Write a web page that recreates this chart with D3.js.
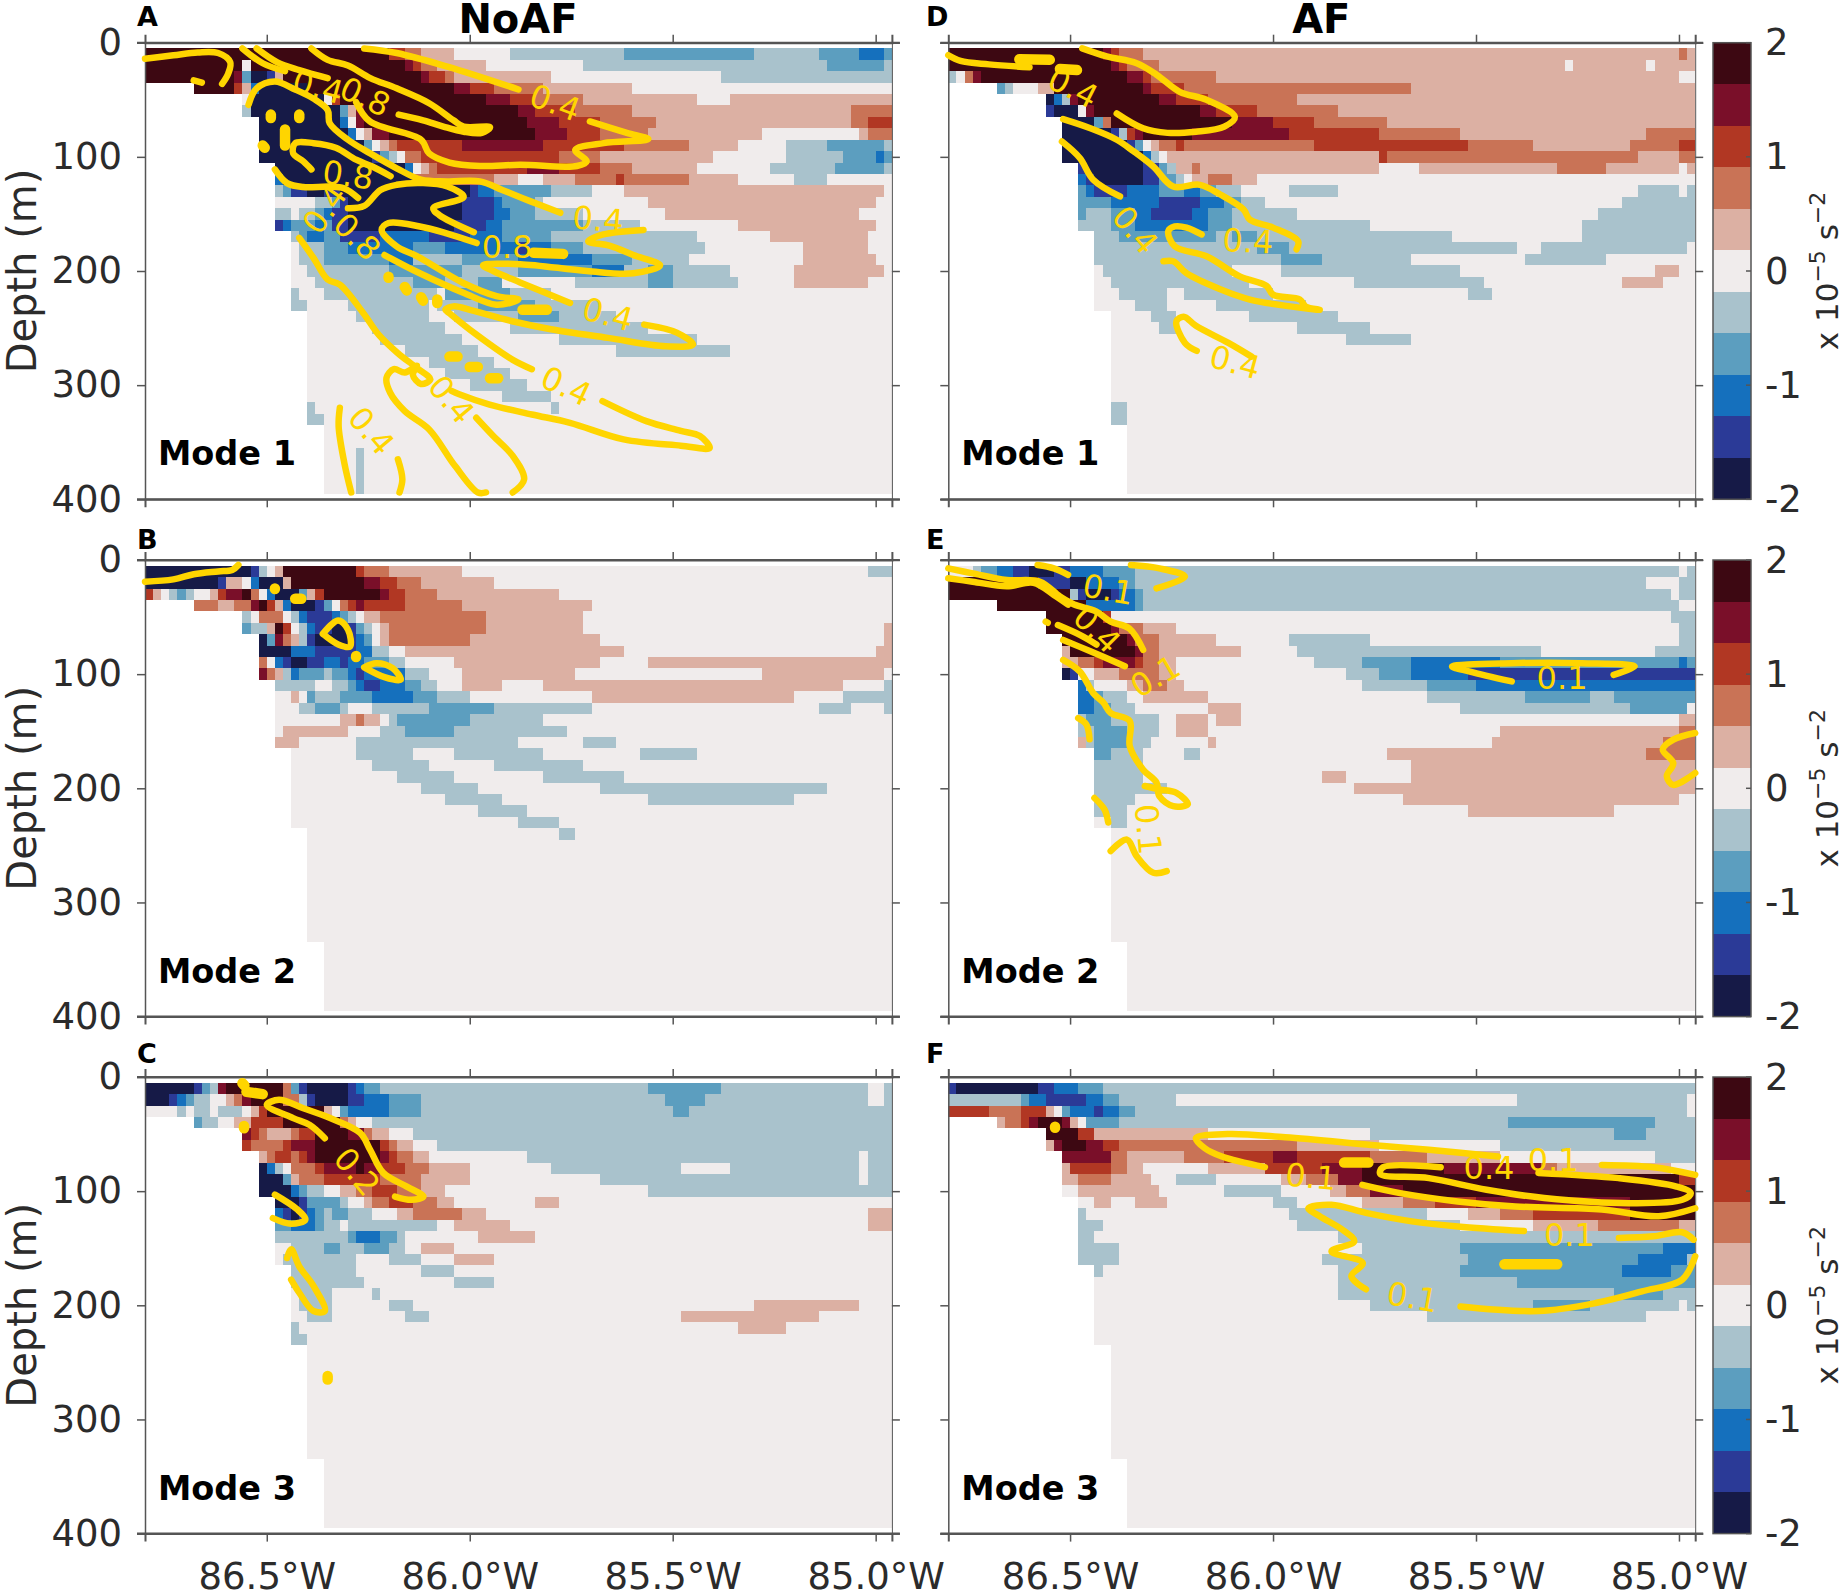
<!DOCTYPE html>
<html>
<head>
<meta charset="utf-8">
<script src="https://cdn.jsdelivr.net/npm/d3@7/dist/d3.min.js"></script>
<style>
  body { margin: 0; background: #fff; }
  text { font-family: "DejaVu Sans", sans-serif; }
</style>
</head>
<body>
<svg id="fig" width="1842" height="1592"></svg>
<script>
// grid of the model section: 0.02 deg wide, 10 m deep cells
const lonStart = -86.8, lonStep = 0.02, depthStart = 5, depthStep = 10;

// colour classes, x 10^-5 s^-2
const levels = { a: -1.82, b: -1.45, c: -1.09, d: -0.73, e: -0.36, o: 0, v: 0.36, w: 0.73, x: 1.09, y: 1.45, z: 1.82 };
const palette = ['#161a47', '#2b3a97', '#1570bd', '#5c9ebf', '#a9c2cc', '#f0ecec', '#dcb0a3', '#c97356', '#b13723', '#7a0f29', '#3d0812'];
const barTicks = [2, 1, 0, -1, -2];
const depthTicks = [0, 100, 200, 300, 400];
const lonTicks = [-86.5, -86, -85.5, -85];

// each row runs top down, token = class + column where that class stops
const rowsA = [
  "z30 x32 w34 v38 o45 e59 d75 e83 d88 c91 d92",
  "z12 o13 z32 y33 x34 w36 v42 o54 e84 d91 e92",
  "z11 y12 d13 a15 b16 v17 z34 y35 x37 w38 v50 o71 e92",
  ".6 z11 x12 v13 c14 a20 z38 y40 x43 w49 v60 o92",
  ".12 o13 a22 o23 x24 z42 y45 x48 w54 v68 o72 v92",
  ".12 e13 a24 d25 v26 y27 z46 y48 x53 w60 v87 w92",
  ".14 a24 c25 o26 y27 z47 y51 x56 w63 v87 w89 x92",
  ".14 a25 c26 o27 v28 y30 z48 y52 x56 w62 v76 o88 v89 w92",
  ".14 a27 d28 o29 v30 w31 x39 y49 x59 w67 v73 o79 e84 d91 e92",
  ".14 a28 b29 d30 e31 o32 w34 x51 w56 v70 o79 e86 d90 c91 d92",
  ".16 a32 c33 o34 v35 w36 x47 y51 x56 w60 v68 o77 e85 d91 e92",
  ".16 c17 a33 w43 v46 o49 v53 w58 x59 w67 v73 o80 e84 o92",
  ".16 e17 d18 b20 a22 b24 a40 b41 c43 d50 e55 o59 v91 o92",
  ".16 o21 e23 d24 b25 a39 b43 c44 d48 e49 o62 v90 o92",
  ".16 e18 o19 e21 d22 c23 b25 a39 b43 c45 d48 e54 o64 v88 o92",
  ".16 b17 c18 d21 c22 d23 b25 a38 b42 c44 d54 e61 o73 v90 o92",
  ".18 e19 d20 c22 d24 b29 c35 b40 c44 d50 e68 o77 v89 o92",
  ".18 o19 e22 d25 c33 d37 c46 b47 c50 d54 e69 o81 v89 o92",
  ".18 o19 e22 d30 c33 e39 d46 c55 d60 e67 o81 v90 o92",
  ".18 o20 e30 d39 e46 d55 c59 e62 d65 e72 o80 v91 o92",
  ".18 o21 e33 d37 e41 d44 o53 e62 d65 e73 o80 v89 o92",
  ".18 e19 o22 e36 o37 d45 e50 o92",
  ".18 e20 o25 e35 o36 e41 d48 e56 o92",
  ".20 o26 e35 o38 e46 d51 e58 o92",
  ".20 o28 e37 o45 e62 o92",
  ".20 o29 e39 o51 e68 o92",
  ".20 o32 e41 o58 e72 o92",
  ".20 o35 e43 o92",
  ".20 o37 e45 o92",
  ".20 o40 e47 o92",
  ".20 o44 e50 o92",
  ".20 e21 o50 e51 o92",
  ".20 e22 o92",
  ".22 o92",
  ".22 o92",
  ".22 o26 e27 o92",
  ".22 o26 e27 o92",
  ".22 o26 e27 o92",
  ".22 o26 e27 o92"
];
const rowsB = [
  "a13 b14 e15 o16 v17 z26 x27 w30 v39 o89 e92",
  "a9 b10 v12 o13 c14 a17 v18 z27 y29 x31 w34 v43 o92",
  "x1 v2 o3 e4 d5 e6 o8 v9 x10 y12 z13 w14 o15 c16 a19 d20 v21 x22 z29 y30 x32 w36 v51 o92",
  ".6 w9 v11 w13 y14 z15 x16 v17 c18 a21 b22 d23 o24 w25 x26 y27 x32 w39 v55 o92",
  ".12 e13 o14 w17 o18 e19 c20 b23 c24 d25 e26 o27 v29 w42 v54 o92",
  ".12 d13 e15 v16 z17 x18 o19 e20 c21 b23 a25 b26 d27 e28 o29 v30 w42 v54 o91 v92",
  ".14 a15 d16 y17 w18 v19 e20 b21 a25 b26 c27 d28 o29 v30 w40 v56 o91 v92",
  ".14 a18 c21 b26 c28 e30 o32 v59 o90 v92",
  ".14 w15 o16 c17 b18 a20 b22 c24 b25 c27 d30 e32 o38 v56 o62 v92",
  ".14 y15 w16 v17 e18 c19 d22 e23 d25 c26 b27 c32 e35 o39 v53 o76 v91 o92",
  ".16 e21 o23 e25 d26 c27 b29 c32 d34 e36 o39 v44 o49 v86 o91 e92",
  ".16 o18 v19 o20 d21 e24 d28 c33 d36 e40 o55 v80 o86 e92",
  ".16 o19 e21 d24 e25 o28 e35 d43 e55 o83 e87 o91 e92",
  ".16 o24 v26 w27 v29 o30 e31 d40 e49 o92",
  ".16 o17 v25 o29 e32 d38 e52 o92",
  ".16 v19 o26 e46 o54 e58 o92",
  ".18 o26 e33 o38 e49 o61 e68 o92",
  ".18 o28 e35 o43 e54 o92",
  ".18 o31 e38 o49 e59 o92",
  ".18 o34 e41 o56 e84 o92",
  ".18 o37 e44 o62 e80 o92",
  ".18 o41 e47 o92",
  ".18 o46 e51 o92",
  ".20 o51 e53 o92",
  ".20 o92", ".20 o92", ".20 o92", ".20 o92", ".20 o92", ".20 o92", ".20 o92", ".20 o92", ".20 o92",
  ".22 o92", ".22 o92", ".22 o92", ".22 o92", ".22 o92", ".22 o92"
];
const rowsC = [
  "a6 b7 d8 e9 y10 z17 w18 d19 b20 a25 b26 c27 d29 e62 d71 e89 o91 e92",
  "a3 b4 c5 d6 e8 o10 v11 w12 y13 z17 w19 e20 b21 a25 b27 c30 d34 e64 d69 e89 o91 e92",
  "o4 e5 o6 e8 o9 e12 o13 v14 x15 z22 v23 o24 d25 c30 d34 e65 d67 e92",
  ".6 d7 e9 o11 v13 x17 z24 w25 v26 o28 e92",
  ".12 y13 x14 w15 v18 w19 x21 z25 y27 w28 v30 o33 e92",
  ".12 x13 w17 x18 y21 z29 x30 w31 v33 o36 e92",
  ".14 v15 w16 x18 w19 x20 y21 z29 y30 x31 w33 v35 o47 e88 o89 e92",
  ".14 a15 c16 e17 o18 w21 x22 y26 z27 y29 x32 w35 v40 o50 e66 o72 e88 o89 e92",
  ".14 a17 d18 v19 w22 x29 w34 v40 o56 e88 o89 e92",
  ".14 a18 c19 d20 e22 o24 v26 w28 x31 w34 v37 o62 e92",
  ".16 a19 b20 d24 e25 o27 v28 w30 x33 w36 v38 o48 v51 o92",
  ".16 c17 b18 a19 b20 c21 d22 e23 d25 e28 o31 v33 w39 v42 o89 v92",
  ".16 d18 c21 d22 e24 o25 e36 o38 v45 o89 v92",
  ".16 e25 d26 c29 d31 e32 o41 v48 o92",
  ".16 o18 e22 d24 e27 d30 e32 o34 v38 o92",
  ".16 o17 e26 o30 e34 o38 v43 o92",
  ".18 e26 o34 e38 o92",
  ".18 e27 o38 e43 o92",
  ".18 o19 e23 o28 e29 o92",
  ".18 o19 e23 o30 e33 o75 v88 o92",
  ".18 o20 e23 o32 e35 o66 v83 o92",
  ".18 e19 o73 v79 o92",
  ".18 e20 o92",
  ".20 o92", ".20 o92", ".20 o92", ".20 o92", ".20 o92", ".20 o92", ".20 o92", ".20 o92", ".20 o92", ".20 o92",
  ".22 o92", ".22 o92", ".22 o92", ".22 o92", ".22 o92", ".22 o92"
];
const rowsD = [
  "z19 y20 x21 w24 v90 w91 v92",
  "z20 y21 x22 w26 v76 o77 v86 o87 v92",
  "e1 o2 w3 y4 z22 y24 x25 w33 v90 o92",
  ".6 d7 e8 o11 v13 z24 y25 x29 w57 v92",
  ".12 a13 c14 e15 y16 z26 y28 x32 w43 v92",
  ".12 b13 a16 o17 y18 z31 y33 x38 w48 v92",
  ".14 a18 d19 w20 z35 y40 x45 w54 v92",
  ".14 a20 b21 e22 x23 y24 z30 y42 x53 w63 v86 w92",
  ".14 a22 b23 d24 o25 v26 w28 x29 w45 x64 w72 v84 w90 x92",
  ".14 a24 c25 e26 o27 v53 x54 w85 v90 w92",
  ".16 b17 a24 b26 d27 e28 v30 w31 v53 o58 v75 w81 v90 o91 v92",
  ".16 c17 b18 a24 b26 d28 e29 o30 v32 w35 v38 o92",
  ".16 d17 c18 b22 c26 d29 c31 d33 e36 o42 e48 o85 e90 o91 e92",
  ".16 d20 c26 b31 c34 d36 e39 o83 e92",
  ".16 d17 e20 d23 c25 b30 c32 d35 e43 o80 e92",
  ".16 e20 d23 c32 d35 e52 o78 e92",
  ".18 e21 d33 e35 d38 e62 o78 e92",
  ".18 e38 d42 e70 o73 e91 o92",
  ".18 e41 d46 e57 o71 e81 o92",
  ".18 o19 e35 o41 e63 o87 v90 o92",
  ".18 o20 e37 o50 e66 o83 v88 o92",
  ".18 o21 e27 o29 e40 o64 e67 o92",
  ".18 o23 e27 o33 e44 o92",
  ".20 o25 e28 o37 e48 o92",
  ".20 o26 e28 o43 e52 o92",
  ".20 o49 e57 o92",
  ".20 o92", ".20 o92", ".20 o92", ".20 o92", ".20 o92",
  ".20 e22 o92", ".20 e22 o92",
  ".22 o92", ".22 o92", ".22 o92", ".22 o92", ".22 o92", ".22 o92"
];
const rowsE = [
  "o3 e4 d6 c8 b10 a13 b15 c19 d23 e90 o91 e92",
  "z11 b15 a17 c21 d23 e86 o90 e92",
  "z15 e16 b17 a20 b21 c23 d24 e89 o90 e92",
  ".6 z17 c23 d24 e90 o92",
  ".12 z19 x20 o89 e92",
  ".12 z20 y21 w24 v28 o90 e92",
  ".14 z22 y23 w26 v33 o42 e52 o90 e92",
  ".14 v15 z23 y24 w26 v36 o43 e73 o87 e92",
  ".14 v16 w18 x19 y23 x24 w26 v28 o45 e51 d57 c68 d90 c91 d92",
  ".14 a15 b16 o18 v21 w26 v28 o49 e53 d57 c64 b92",
  ".16 c17 e18 o22 v24 w27 v29 o51 e59 d65 c92",
  ".16 c18 d19 e22 o24 v32 o59 e71 d79 e82 d92",
  ".16 c18 d20 e23 o32 v36 o63 e84 d91 o92",
  ".16 e17 d20 e26 o28 v32 o33 v36 o90 v92",
  ".16 e18 d22 e26 o28 v32 o68 v90 w92",
  ".16 v17 e18 d22 e25 o32 v33 o67 v88 w92",
  ".18 d20 e24 o29 e31 o54 v86 w92",
  ".18 e24 o57 v92",
  ".18 e24 o46 v49 o57 v92",
  ".18 e27 o50 v92",
  ".18 e23 o56 v90 o92",
  ".18 e22 o64 v82 o92",
  ".18 o20 e22 o92",
  ".20 o92", ".20 o92", ".20 o92", ".20 o92", ".20 o92", ".20 o92", ".20 o92", ".20 o92", ".20 o92", ".20 o92",
  ".22 o92", ".22 o92", ".22 o92", ".22 o92", ".22 o92", ".22 o92"
];
const rowsF = [
  "b1 a11 b13 c16 d19 e92",
  "e9 d10 c12 b17 c19 d21 e28 o70 e91 o92",
  "x5 w9 x12 v13 o14 d15 c18 b19 c21 d23 e91 o92",
  ".6 v7 w9 x10 y11 z14 y15 v16 o17 d21 e69 d87 e92",
  ".12 z16 x18 v32 o52 e82 d86 e92",
  ".12 v13 y14 z17 y19 x21 w43 v53 o68 e92",
  ".14 y20 w22 v29 w34 x40 y43 x52 w59 v68 o87 e92",
  ".14 v15 x20 w22 v24 o32 v39 x46 y51 z61 y73 w75 v89 o92",
  ".14 v16 w20 v25 o28 e33 o41 v44 w48 y51 z90 x92",
  ".14 o16 v26 o34 e41 o47 v49 w52 y56 z92",
  ".16 o18 v20 o23 v27 o40 e43 o51 v56 w60 x65 y84 z92",
  ".16 e17 o42 e59 o64 v68 w72 x84 z92",
  ".16 e19 o43 e63 o72 v80 w90 v92",
  ".16 e18 o48 e92",
  ".16 e21 o51 e63 d88 c92",
  ".16 e21 o46 e64 d85 c91 e92",
  ".18 e19 o48 e63 d83 c89 d92",
  ".18 o48 e70 d92",
  ".18 o48 e82 d88 e92",
  ".18 o52 e72 d79 e90 o91 e92",
  ".18 o59 e86 o92",
  ".18 o92", ".18 o92",
  ".20 o92", ".20 o92", ".20 o92", ".20 o92", ".20 o92", ".20 o92", ".20 o92", ".20 o92", ".20 o92", ".20 o92",
  ".22 o92", ".22 o92", ".22 o92", ".22 o92", ".22 o92", ".22 o92"
];

// contours of the mode, [lon, depth]
const contoursA = [
  [[-86.80,14],[-86.73,11],[-86.67,8.5],[-86.62,9],[-86.59,17],[-86.595,27],[-86.61,36]],
  [[-86.68,33],[-86.66,35]],
  [[-86.56,5],[-86.51,18],[-86.455,25]],
  [[-86.525,5],[-86.475,17],[-86.42,24],[-86.35,31]],
  [[-86.39,5],[-86.35,15],[-86.30,20],[-86.245,31],[-86.18,40],[-86.10,53],[-86.04,68],[-86.015,73.5],[-85.95,74],[-85.97,79],[-86.015,78],[-86.065,73.5],[-86.115,68],[-86.175,63]],
  [[-86.26,5],[-86.18,9],[-86.055,21],[-85.88,41]],
  [[-86.28,52],[-86.246,69],[-86.12,85],[-86.10,97],[-86.05,105],[-85.975,108],[-85.876,107],[-85.736,108],[-85.712,104],[-85.74,94],[-85.67,88],[-85.56,84.5],[-85.613,79],[-85.704,69]],
  [[-86.545,54.5],[-86.525,40],[-86.48,34],[-86.43,41],[-86.385,49],[-86.35,59],[-86.345,70.5],[-86.30,85],[-86.245,97],[-86.18,110],[-86.12,120],[-86.055,121.5],[-85.975,121.5],[-85.92,129],[-85.85,139],[-85.777,149]],
  [[-86.39,111],[-86.41,104],[-86.435,97],[-86.43,88],[-86.385,88],[-86.33,92],[-86.28,102.5],[-86.24,108.5],[-86.195,117]],
  [[-86.48,111],[-86.45,123],[-86.41,126.5],[-86.345,126],[-86.31,127.5],[-86.275,136]],
  [[-86.30,145],[-86.26,143],[-86.22,129],[-86.18,124.5],[-86.115,123],[-86.055,126],[-86.015,135],[-86.09,145],[-86.075,151],[-85.99,166]],
  [[-85.983,175.5],[-86.057,167],[-86.123,161],[-86.2,158],[-86.217,164],[-86.18,178.5],[-86.13,187],[-86.016,210.5],[-85.934,222],[-85.88,225],[-85.934,229.5],[-86.016,219],[-86.123,202],[-86.21,186]],
  [[-85.753,228],[-85.876,210],[-85.942,200],[-85.967,195],[-85.876,194],[-85.712,200],[-85.597,202],[-85.531,195],[-85.597,186],[-85.654,178],[-85.708,174],[-85.671,168],[-85.572,164]],
  [[-86.42,171],[-86.385,188.5],[-86.35,207.5],[-86.32,212],[-86.262,237],[-86.224,256],[-86.177,272],[-86.13,285],[-86.097,295],[-86.12,299],[-86.14,291],[-86.13,283],[-86.16,289],[-86.187,286],[-86.205,293.6],[-86.196,306.7],[-86.16,322.8],[-86.10,338.8],[-86.036,370.9],[-85.98,394],[-85.96,394]],
  [[-86.045,305],[-86.026,308],[-85.951,317],[-85.847,325.7],[-85.753,333],[-85.621,347.5],[-85.48,353],[-85.409,355],[-85.433,344.6],[-85.48,340],[-85.565,331.5],[-85.673,314]],
  [[-85.984,328.6],[-85.942,344.6],[-85.894,362],[-85.866,382.5],[-85.894,394]],
  [[-86.32,319.8],[-86.323,336],[-86.309,368],[-86.292,394]],
  [[-86.177,365],[-86.166,382.5],[-86.173,394]],
  [[-85.847,286],[-85.895,277.6],[-85.99,254],[-86.05,237],[-86.06,234],[-86.04,231],[-85.99,235],[-85.895,244],[-85.80,251],[-85.66,258.6],[-85.517,266],[-85.45,264.5],[-85.49,254],[-85.57,247]]
];
const blobsA = [
  [[-86.49,63],[-86.49,66]], [[-86.42,63],[-86.42,66]], [[-86.455,76],[-86.455,90]], [[-86.51,90],[-86.505,92]],
  [[-85.843,184],[-85.77,185]], [[-85.87,234],[-85.81,234]],
  [[-86.2,205],[-86.2,206]], [[-86.16,214],[-86.155,217]], [[-86.12,223],[-86.115,226]], [[-86.08,225],[-86.08,228]],
  [[-86.05,275],[-86.03,275]], [[-86.0,284],[-85.98,284]], [[-85.95,294],[-85.93,294]]
];
const labelsA = [
  ["0.4",-86.374,38.8,15], ["0.8",-86.258,47.5,25], ["0.8",-86.3,116,8], ["0.4",-86.357,146,-55], ["0.8",-86.278,170,45],
  ["0.8",-85.908,178.7,0], ["0.4",-85.79,52.8,20], ["0.4",-85.684,155,5], ["0.4",-85.66,238,15],
  ["0.4",-85.763,301,25], ["0.4",-86.046,312.6,50], ["0.4",-86.243,340,50]
];
const contoursB = [
  [[-86.8,19],[-86.73,17],[-86.68,12.5],[-86.62,10],[-86.585,8.7],[-86.57,4.4]],
  [[-86.362,64.7],[-86.324,53],[-86.30,61],[-86.295,75.8],[-86.324,74],[-86.362,64.7]],
  [[-86.26,94],[-86.23,90.4],[-86.19,94.8],[-86.17,105],[-86.21,102.6],[-86.26,94]]
];
const blobsB = [
  [[-86.48,25],[-86.48,25.5]], [[-86.43,34],[-86.415,34]], [[-86.28,84],[-86.28,85]]
];
const labelsB = [];
const contoursC = [
  [[-86.357,53.6],[-86.394,42],[-86.435,36],[-86.50,24.5],[-86.47,20],[-86.41,27.4],[-86.344,36],[-86.27,49],[-86.245,64],[-86.213,84],[-86.155,96],[-86.114,104.7],[-86.143,107.6],[-86.184,104.7]],
  [[-86.48,103],[-86.425,116],[-86.405,125],[-86.44,128.6],[-86.485,123.6]],
  [[-86.45,158.6],[-86.44,151],[-86.42,166],[-86.385,183],[-86.357,205],[-86.385,205],[-86.42,189],[-86.44,177.5]]
];
const blobsC = [
  [[-86.56,5.5],[-86.555,7.5]], [[-86.55,13],[-86.51,15]], [[-86.556,43],[-86.556,45]], [[-86.35,262],[-86.35,265]]
];
const labelsC = [["0.2",-86.278,83,50]];
const contoursD = [
  [[-86.8,11],[-86.77,16],[-86.70,19],[-86.6,21.5]],
  [[-86.47,5],[-86.41,12],[-86.336,18],[-86.287,28],[-86.23,43],[-86.164,50],[-86.094,65],[-86.12,73.5],[-86.19,78],[-86.26,79],[-86.32,75],[-86.385,62]],
  [[-86.517,67],[-86.45,75],[-86.385,85],[-86.344,95],[-86.295,108.5],[-86.246,126],[-86.18,124.5],[-86.13,133],[-86.073,146],[-86.057,155],[-86.0,162],[-85.938,174],[-85.942,181]],
  [[-86.52,86.6],[-86.476,101],[-86.443,120],[-86.377,134.7]],
  [[-86.176,168],[-86.213,162],[-86.242,161],[-86.258,165],[-86.242,178.5],[-86.164,187],[-86.082,204.7],[-86.016,213],[-86.0,220.7],[-85.934,225],[-85.92,231],[-85.885,234],[-85.958,231],[-86.057,225],[-86.13,216],[-86.213,202],[-86.246,191.5],[-86.27,191.5]],
  [[-86.188,270],[-86.217,263],[-86.238,244],[-86.22,240],[-86.19,248],[-86.11,263],[-86.053,275]]
];
const blobsD = [
  [[-86.625,14.5],[-86.55,15]], [[-86.525,23],[-86.483,24]]
];
const labelsD = [
  ["0.4",-86.493,39.6,27], ["0.4",-86.34,164,50], ["0.4",-86.062,174,3], ["0.4",-86.094,280,15]
];
const contoursE = [
  [[-86.8,7.3],[-86.74,11.7],[-86.656,17.5],[-86.574,19],[-86.525,32],[-86.49,39],[-86.436,45],[-86.40,54],[-86.354,60],[-86.32,78.7]],
  [[-86.8,16],[-86.74,19],[-86.656,23],[-86.59,20],[-86.54,30.6],[-86.505,39]],
  [[-86.58,4.4],[-86.54,7.3],[-86.505,13]],
  [[-86.35,4.4],[-86.28,7.3],[-86.217,14.6],[-86.287,24.8]],
  [[-86.53,57],[-86.476,65.6],[-86.435,74]],
  [[-86.517,70],[-86.45,80],[-86.365,93]],
  [[-86.56,54],[-86.555,55]],
  [[-86.517,87.5],[-86.476,97.7],[-86.443,116.6],[-86.418,125],[-86.40,134],[-86.353,141],[-86.353,163],[-86.32,183.7],[-86.287,195],[-86.28,207],[-86.246,215.7],[-86.21,214],[-86.238,204],[-86.28,201],[-86.316,198]],
  [[-86.48,138.5],[-86.46,144],[-86.452,157]],
  [[-86.44,208.5],[-86.415,218.7],[-86.406,230]],
  [[-86.4,255],[-86.36,245],[-86.336,259.5],[-86.295,274],[-86.262,272.6]],
  [[-85.412,106.4],[-85.515,97.7],[-85.559,93.3],[-85.412,90.4],[-85.239,90.4],[-85.109,93.3],[-85.161,100.6]],
  [[-84.96,151.6],[-85.014,157.4],[-85.04,166],[-85.014,178],[-85.03,189.5],[-85.014,197],[-84.96,186.6]]
];
const blobsE = [];
const labelsE = [
  ["0.1",-86.406,26,10], ["0.4",-86.434,61,45], ["0.1",-86.29,102,-30], ["0.1",-86.308,236,85], ["0.1",-85.288,103,0]
];
const contoursF = [
  [[-86.02,79],[-86.126,69.7],[-86.168,62.4],[-86.19,53.6],[-86.112,50],[-85.97,52.8],[-85.757,59.5],[-85.616,63.8],[-85.446,69.7]],
  [[-85.587,79],[-85.729,79],[-85.736,84.8],[-85.616,88.6],[-85.474,98.8],[-85.332,106],[-85.12,110.5],[-84.992,107.6],[-84.971,101.7],[-85.006,96],[-85.148,88.6],[-85.346,84]],
  [[-85.78,94.5],[-85.687,101.7],[-85.545,109],[-85.403,113.4],[-85.19,116],[-85.05,122],[-84.96,115]],
  [[-85.19,77],[-85.063,79],[-84.96,85.7]],
  [[-85.382,135],[-85.545,131],[-85.658,126.5],[-85.771,119],[-85.856,112],[-85.913,115],[-85.885,122],[-85.828,134],[-85.80,144],[-85.856,152.8],[-85.779,163],[-85.807,174.6],[-85.771,186]],
  [[-85.148,141],[-85.063,139.6],[-84.992,136],[-84.964,142.5]],
  [[-85.538,201],[-85.346,205],[-85.205,198],[-85.091,187.8],[-84.992,177.5],[-84.96,157]]
];
const blobsF = [
  [[-86.537,43.5],[-86.537,44.5]], [[-85.825,75],[-85.765,75]], [[-85.43,164],[-85.30,164]]
];
const labelsF = [
  ["0.1",-85.907,87.5,5], ["0.4",-85.468,79.6,0], ["0.1",-85.31,72.6,0], ["0.1",-85.27,138,0], ["0.1",-85.657,193,10]
];

const panelLetters = ['A', 'B', 'C', 'D', 'E', 'F'];
const modeNames = ['Mode 1', 'Mode 2', 'Mode 3'];
const columnTitles = ['NoAF', 'AF'];

const svg = d3.select('#fig');
const gold = '#ffd500', ink = '#2b2b2b', axisGrey = '#555';
const panelW = 746.9, panelH = 456.6;
const lefts = [145, 948.3], tops = [42.7, 560, 1077];
const letterX = [137, 926], letterY = [26, 549, 1063];

const color = d3.scaleQuantize().domain([-2, 2]).range(palette);
const lonFormat = d => Math.abs(d).toFixed(1) + '°W';

function styleAxis(sel, width) {
  sel.selectAll('.domain').attr('stroke', axisGrey).attr('stroke-width', width);
  sel.selectAll('.tick line').attr('stroke', axisGrey).attr('stroke-width', 1.5);
  sel.selectAll('text').attr('fill', ink).attr('font-size', 37);
}

function drawPanel(col, row, rows, contours, blobs, labels) {
  const x = d3.scaleLinear().domain([lonStart, lonStart + 92 * lonStep]).range([lefts[col], lefts[col] + panelW]);
  const y = d3.scaleLinear().domain([0, 400]).range([tops[row], tops[row] + panelH]);
  const g = svg.append('g');

  // cells, one rect per run
  const runs = [];
  rows.forEach((r, j) => {
    let from = 0;
    r.split(' ').forEach(tok => {
      const to = +tok.slice(1);
      if (tok[0] !== '.') runs.push({ j, from, to, v: levels[tok[0]] });
      from = to;
    });
  });
  g.selectAll('rect.cell').data(runs).join('rect')
    .attr('class', 'cell')
    .attr('x', d => x(lonStart + d.from * lonStep))
    .attr('width', d => x(lonStart + d.to * lonStep) - x(lonStart + d.from * lonStep))
    .attr('y', d => y(depthStart + d.j * depthStep))
    .attr('height', y(depthStep) - y(0))
    .attr('fill', d => color(d.v))
    .attr('shape-rendering', 'crispEdges');

  // axes on all four sides
  const ax = (axis, tx, ty, w) => g.append('g').attr('transform', `translate(${tx},${ty})`).call(axis).call(styleAxis, w);
  ax(d3.axisLeft(y).tickValues(depthTicks).tickSize(8).tickPadding(15).tickFormat(col === 0 ? d3.format('d') : ''), lefts[col], 0, 1.5);
  ax(d3.axisRight(y).tickValues(depthTicks).tickSize(8).tickFormat(''), lefts[col] + panelW, 0, 1);
  ax(d3.axisTop(x).tickValues(lonTicks).tickSize(8).tickFormat(''), 0, tops[row], 2);
  ax(d3.axisBottom(x).tickValues(lonTicks).tickSize(8).tickPadding(21).tickFormat(row === 2 ? lonFormat : ''), 0, tops[row] + panelH, 2);
  // corner ticks run the frame out to the tick ends
  g.selectAll('line.corner').data([tops[row], tops[row] + panelH]).join('line')
    .attr('class', 'corner')
    .attr('x1', lefts[col] - 8).attr('x2', lefts[col] + panelW + 8)
    .attr('y1', d => d).attr('y2', d => d)
    .attr('stroke', axisGrey).attr('stroke-width', 2);

  // contours
  const line = d3.line().x(d => x(d[0])).y(d => y(d[1])).curve(d3.curveCatmullRom.alpha(0.5));
  g.selectAll('path.contour').data(contours).join('path')
    .attr('class', 'contour').attr('d', line)
    .attr('fill', 'none').attr('stroke', gold).attr('stroke-width', 6.5)
    .attr('stroke-linejoin', 'round').attr('stroke-linecap', 'round');
  g.selectAll('path.blob').data(blobs).join('path')
    .attr('class', 'blob').attr('d', line)
    .attr('fill', 'none').attr('stroke', gold).attr('stroke-width', 10.5)
    .attr('stroke-linecap', 'round');
  g.selectAll('text.clabel').data(labels).join('text')
    .attr('class', 'clabel')
    .attr('transform', d => `translate(${x(d[1])},${y(d[2])}) rotate(${d[3]})`)
    .attr('text-anchor', 'middle').attr('dominant-baseline', 'central')
    .attr('font-size', 32).attr('fill', gold)
    .text(d => d[0]);

  g.append('text')
    .attr('x', lefts[col] + 13).attr('y', tops[row] + 422.5)
    .attr('font-size', 33.5).attr('font-weight', 'bold').attr('fill', '#000')
    .text(modeNames[row]);
  g.append('text')
    .attr('x', letterX[col]).attr('y', letterY[row])
    .attr('font-size', 27).attr('font-weight', 'bold').attr('fill', '#000')
    .text(panelLetters[col * 3 + row]);
}

drawPanel(0, 0, rowsA, contoursA, blobsA, labelsA);
drawPanel(0, 1, rowsB, contoursB, blobsB, labelsB);
drawPanel(0, 2, rowsC, contoursC, blobsC, labelsC);
drawPanel(1, 0, rowsD, contoursD, blobsD, labelsD);
drawPanel(1, 1, rowsE, contoursE, blobsE, labelsE);
drawPanel(1, 2, rowsF, contoursF, blobsF, labelsF);

// column titles
columnTitles.forEach((t, i) => {
  svg.append('text').attr('x', lefts[i] + 373).attr('y', 33)
    .attr('text-anchor', 'middle').attr('font-size', 40).attr('font-weight', 'bold').attr('fill', '#000')
    .text(t);
});

// depth labels and colour bars, one set per row
tops.forEach(top => {
  svg.append('text')
    .attr('transform', `translate(36,${top + panelH / 2}) rotate(-90)`)
    .attr('text-anchor', 'middle').attr('font-size', 40).attr('fill', ink)
    .text('Depth (m)');

  const barY = d3.scaleLinear().domain([-2, 2]).range([top + panelH, top]);
  const barX = 1713, barW = 38;
  const g = svg.append('g');
  g.selectAll('rect').data(color.range()).join('rect')
    .attr('x', barX).attr('width', barW)
    .attr('y', d => barY(color.invertExtent(d)[1]))
    .attr('height', d => barY(color.invertExtent(d)[0]) - barY(color.invertExtent(d)[1]))
    .attr('fill', d => d).attr('shape-rendering', 'crispEdges');
  g.append('rect').attr('x', barX).attr('y', top).attr('width', barW).attr('height', panelH)
    .attr('fill', 'none').attr('stroke', axisGrey).attr('stroke-width', 1.5);
  g.selectAll('line').data(barTicks).join('line')
    .attr('x1', barX + barW - 5).attr('x2', barX + barW)
    .attr('y1', d => barY(d)).attr('y2', d => barY(d))
    .attr('stroke', axisGrey).attr('stroke-width', 1.5);
  g.selectAll('text').data(barTicks).join('text')
    .attr('x', barX + barW + 14).attr('y', d => barY(d))
    .attr('dominant-baseline', 'central')
    .attr('font-size', 37).attr('fill', ink)
    .text(d => d);

  const unit = svg.append('text')
    .attr('transform', `translate(1838,${top + panelH / 2}) rotate(-90)`)
    .attr('text-anchor', 'middle').attr('font-size', 31).attr('fill', ink);
  unit.append('tspan').text('x 10');
  unit.append('tspan').attr('dy', -13).attr('font-size', 22).text('−5');
  unit.append('tspan').attr('dy', 13).text(' s');
  unit.append('tspan').attr('dy', -13).attr('font-size', 22).text('−2');
});
</script>
</body>
</html>
